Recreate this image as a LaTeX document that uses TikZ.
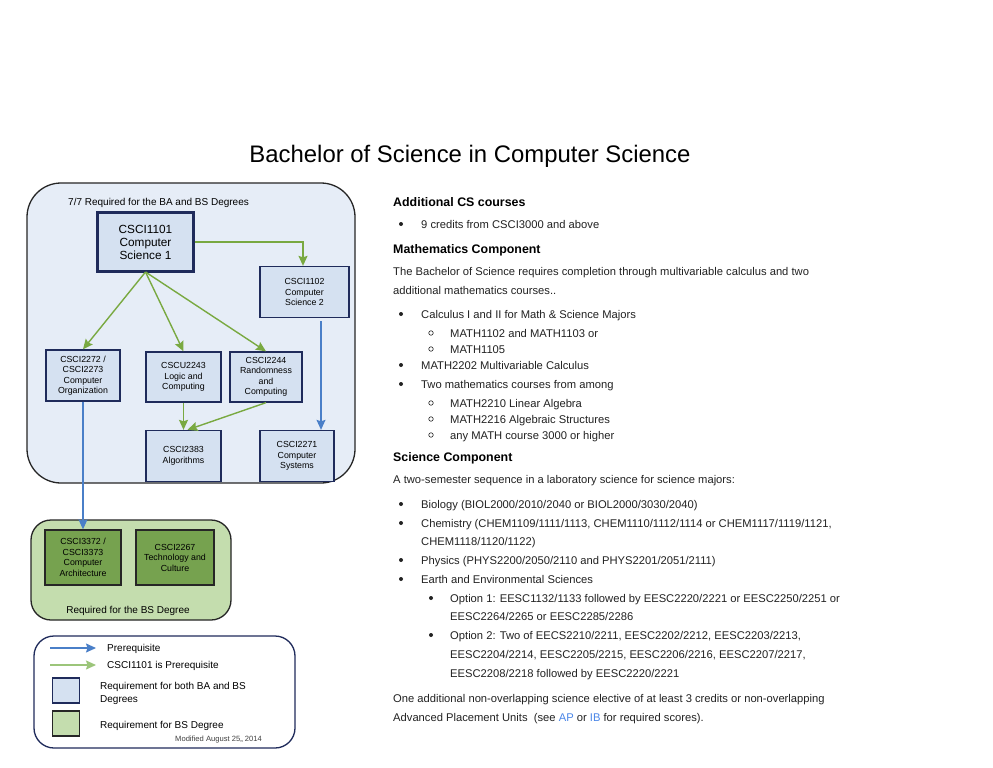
\documentclass[tikz,border=0pt]{standalone}
\usepackage{fontspec}
\setmainfont{Liberation Sans}
\usetikzlibrary{arrows.meta}
\definecolor{navy}{HTML}{1F2B5B}
\definecolor{paleblue}{HTML}{E6EDF7}
\definecolor{nodeblue}{HTML}{D5E1F1}
\definecolor{palegreen}{HTML}{C4DDAE}
\definecolor{darkgreen}{HTML}{76A24F}
\definecolor{arrowgreen}{HTML}{79A941}
\definecolor{legendgreen}{HTML}{9CC57A}
\definecolor{arrowblue}{HTML}{4A7FC8}
\definecolor{linkblue}{HTML}{4A86E8}
\definecolor{bodytext}{HTML}{222222}
\tikzset{
  course/.style={draw=navy, line width=1.3pt, fill=nodeblue, align=center,
    font=\fontsize{8.8}{10.5}\selectfont, inner sep=0pt},
  bscourse/.style={draw=black!85, line width=1.3pt, fill=darkgreen, align=center,
    font=\fontsize{8.8}{10.5}\selectfont, inner sep=0pt},
  greenarrow/.style={draw=arrowgreen, line width=1.4pt,
    -{Stealth[length=10pt,width=9pt,inset=1.5pt]}},
  bluearrow/.style={draw=arrowblue, line width=1.2pt,
    -{Stealth[length=10pt,width=9pt,inset=1.5pt]}},
  heading/.style={anchor=base west, font=\bfseries\fontsize{12.4}{14}\selectfont, text=black},
  body/.style={anchor=base west, font=\fontsize{11.2}{13}\selectfont, text=bodytext, inner sep=0pt},
  bullet/.style={circle, fill=bodytext, inner sep=0pt, minimum size=4pt},
  ring/.style={circle, draw=bodytext, line width=0.6pt, inner sep=0pt, minimum size=4.5pt},
  legendtext/.style={anchor=base west, font=\fontsize{10}{13}\selectfont, align=left, inner sep=0pt},
}
\begin{document}
\begin{tikzpicture}[x=1pt, y=-1pt]
\useasboundingbox (0,0) rectangle (993,768);
\fill[white] (0,0) rectangle (993,768);

% title
\node[font=\fontsize{23.9}{28}\selectfont, anchor=base] (title) at (470,162) {Bachelor of Science in Computer Science};

% ---------- core courses container ----------
\draw[fill=paleblue, draw=black!85, line width=1.3pt, rounded corners=34pt] (27,183) rectangle (355,483);
\node[anchor=base west, font=\fontsize{10}{11}\selectfont, inner sep=0pt] (corelabel) at (68,205) {7/7 Required for the BA and BS Degrees};

\node[course, line width=2.6pt, font=\fontsize{11.8}{13}\selectfont, minimum width=96pt, minimum height=59pt] (c1101) at (145.5,242) {CSCI1101\\Computer\\Science 1};
\node[course, minimum width=89pt, minimum height=51pt] (c1102) at (304.5,292) {CSCI1102\\Computer\\Science 2};
\node[course, minimum width=74pt, minimum height=51pt] (c2272) at (83,375.5) {CSCI2272 /\\CSCI2273\\Computer\\Organization};
\node[course, minimum width=75pt, minimum height=50pt] (c2243) at (183.5,377) {CSCU2243\\Logic and\\Computing};
\node[course, minimum width=72pt, minimum height=50pt] (c2244) at (266,377) {CSCI2244\\Randomness\\and\\Computing};
\node[course, minimum width=75pt, minimum height=51pt] (c2383) at (183.5,456) {CSCI2383\\Algorithms};
\node[course, minimum width=74pt, minimum height=51pt] (c2271) at (297,456) {CSCI2271\\Computer\\Systems};

% ---------- BS-only container ----------
\draw[fill=palegreen, draw=black!85, line width=1.3pt, rounded corners=20pt] (31,520) rectangle (231,620);
\node[bscourse, minimum width=76pt, minimum height=55pt] (c3372) at (83,557.5) {CSCI3372 /\\CSCI3373\\Computer\\Architecture};
\node[bscourse, minimum width=78pt, minimum height=55pt] (c2267) at (175,557.5) {CSCI2267\\Technology and\\Culture};
\node[anchor=base, font=\fontsize{10}{11}\selectfont] (bslabel) at (128,613) {Required for the BS Degree};

% ---------- prerequisite arrows ----------
\coordinate (c1101out) at (145.5,272);
\draw[greenarrow] (c1101.east |- 0,242) -- (303,242) -- (c1102.north -| 303,0);
\draw[greenarrow] (c1101out) -- (c2272.north);
\draw[greenarrow] (c1101out) -- (c2243.north);
\draw[greenarrow] (c1101out) -- (c2244.north);
\draw[greenarrow] (c2243.south) -- (c2383.north);
\draw[greenarrow] (c2244.south) -- ([xshift=4pt]c2383.north);
\draw[bluearrow] ([yshift=-3pt]c1102.south -| 321,0) -- (c2271.north -| 321,0);
\draw[bluearrow] (c2272.south) -- (c3372.north);

% ---------- legend ----------
\draw[fill=white, draw=navy, line width=1.3pt, rounded corners=20pt] (34,636) rectangle (295,748);
\coordinate (lb1) at (50,648);
\coordinate (lb2) at (96,648);
\coordinate (lg1) at (50,665);
\coordinate (lg2) at (96,665);
\draw[bluearrow] (lb1) -- (lb2);
\draw[draw=legendgreen, line width=1.4pt, -{Stealth[length=10pt,width=9pt,inset=1.5pt]}] (lg1) -- (lg2);
\node[legendtext] (lt1) at (107,651.5) {Prerequisite};
\node[legendtext] (lt2) at (107,668.5) {CSCI1101 is Prerequisite};
\node[draw=navy, line width=1.2pt, fill=nodeblue, minimum width=27pt, minimum height=25pt] (lsq1) at (66,690.5) {};
\node[draw=black!85, line width=1.2pt, fill=palegreen, minimum width=27pt, minimum height=25pt] (lsq2) at (66,723.5) {};
\node[legendtext] (lt3) at (100,689) {Requirement for both BA and BS};
\node[legendtext] (lt3b) at (100,702) {Degrees};
\node[legendtext] (lt4) at (100,728.5) {Requirement for BS Degree};
\node[anchor=base west, font=\fontsize{7.6}{8}\selectfont, text=black!75, inner sep=0pt] (modified) at (175,741) {Modified August 25,, 2014};

% ---------- requirements text ----------
\node[heading, inner sep=0pt] (h1) at (393,206) {Additional CS courses};
\node[bullet] (b1) at (401,224) {};
\node[body] (t1) at (421,228) {9 credits from CSCI3000 and above};

\node[heading, inner sep=0pt] (h2) at (393,253) {Mathematics Component};
\node[body] (t2) at (393,275) {The Bachelor of Science requires completion through multivariable calculus and two};
\node[body] (t3) at (393,294) {additional mathematics courses..};
\node[bullet] (b2) at (401,314) {};
\node[body] (t4) at (421,318) {Calculus I and II for Math \& Science Majors};
\node[ring] (r1) at (431,333) {};
\node[body] (t5) at (450,337) {MATH1102 and MATH1103 or};
\node[ring] (r2) at (431,349) {};
\node[body] (t6) at (450,353) {MATH1105};
\node[bullet] (b3) at (401,365) {};
\node[body] (t7) at (421,369) {MATH2202 Multivariable Calculus};
\node[bullet] (b4) at (401,384) {};
\node[body] (t8) at (421,388) {Two mathematics courses from among};
\node[ring] (r3) at (431,403) {};
\node[body] (t9) at (450,407) {MATH2210 Linear Algebra};
\node[ring] (r4) at (431,419) {};
\node[body] (t10) at (450,423) {MATH2216 Algebraic Structures};
\node[ring] (r5) at (431,435) {};
\node[body] (t11) at (450,439) {any MATH course 3000 or higher};

\node[heading, inner sep=0pt] (h3) at (393,461) {Science Component};
\node[body] (t12) at (393,483) {A two-semester sequence in a laboratory science for science majors:};
\node[bullet] (b5) at (401,504) {};
\node[body] (t13) at (421,508) {Biology (BIOL2000/2010/2040 or BIOL2000/3030/2040)};
\node[bullet] (b6) at (401,523) {};
\node[body] (t14) at (421,527) {Chemistry (CHEM1109/1111/1113, CHEM1110/1112/1114 or CHEM1117/1119/1121,};
\node[body] (t15) at (421,545) {CHEM1118/1120/1122)};
\node[bullet] (b7) at (401,560) {};
\node[body] (t16) at (421,564) {Physics (PHYS2200/2050/2110 and PHYS2201/2051/2111)};
\node[bullet] (b8) at (401,579) {};
\node[body] (t17) at (421,583) {Earth and Environmental Sciences};
\node[bullet] (b9) at (431,598) {};
\node[body] (t18) at (450,602) {Option 1: EESC1132/1133 followed by EESC2220/2221 or EESC2250/2251 or};
\node[body] (t19) at (450,620) {EESC2264/2265 or EESC2285/2286};
\node[bullet] (b10) at (431,635) {};
\node[body] (t20) at (450,639) {Option 2: Two of EECS2210/2211, EESC2202/2212, EESC2203/2213,};
\node[body] (t21) at (450,658) {EESC2204/2214, EESC2205/2215, EESC2206/2216, EESC2207/2217,};
\node[body] (t22) at (450,677) {EESC2208/2218 followed by EESC2220/2221};
\node[body] (t23) at (393,702) {One additional non-overlapping science elective of at least 3 credits or non-overlapping};
\node[body] (t24) at (393,721) {Advanced Placement Units\ \ (see \textcolor{linkblue}{AP} or \textcolor{linkblue}{IB} for required scores).};
\end{tikzpicture}
\end{document}
